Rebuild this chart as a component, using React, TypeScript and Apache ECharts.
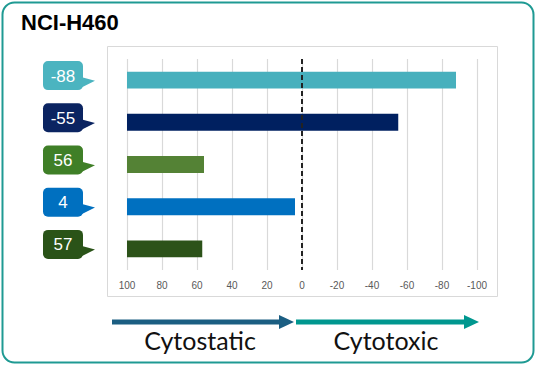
import React, { useEffect, useRef } from "react";
import * as echarts from "echarts";

const CATEGORIES = ["-88", "-55", "56", "4", "57"];
const VALUES = [-88, -55, 56, 4, 57];
const BAR_COLORS = ["#47B0BD", "#002060", "#548235", "#0070C0", "#2C5219"];
const LABEL_COLORS = ["#4BB4C0", "#0B2461", "#3F7F27", "#0070C0", "#2A5318"];
const X_MIN = -100;
const X_MAX = 100;
const X_INTERVAL = 20;
const AXIS_START = 100;
const REF_LINE = 0;
const TITLE = "NCI-H460";
const LEFT_LABEL = "Cytostatic";
const RIGHT_LABEL = "Cytotoxic";

export default function App() {
  const ref = useRef<HTMLDivElement>(null);
  useEffect(() => {
    document.body.style.margin = "0";
    const chart = echarts.init(ref.current!, null, { renderer: "svg" });
    const option: any = {
      animation: false,
      grid: { left: 127, right: 59, top: 59, bottom: 96 },
      xAxis: {
        type: "value",
        min: X_MIN,
        max: X_MAX,
        interval: X_INTERVAL,
        inverse: true,
        axisLine: { show: false },
        axisTick: { show: false },
        axisLabel: {
          color: "#595959",
          fontSize: 10,
          fontFamily: "Liberation Sans",
          margin: 10,
        },
        splitLine: { show: true, lineStyle: { color: "#D9D9D9", width: 1.2 } },
      },
      yAxis: {
        type: "category",
        data: CATEGORIES,
        inverse: true,
        axisLine: { show: false },
        axisTick: { show: false },
        axisLabel: { show: false },
        splitLine: { show: false },
      },
      graphic: [
        {
          type: "rect",
          shape: { x: 2.5, y: 2.5, width: 531, height: 360, r: 12 },
          style: { fill: "none", stroke: "#1F9A93", lineWidth: 2 },
          z: -10,
        },
        {
          type: "rect",
          shape: { x: 107.5, y: 46.5, width: 390, height: 250 },
          style: { fill: "none", stroke: "#D9D9D9", lineWidth: 1 },
          z: -10,
        },
        {
          type: "text",
          left: 21,
          top: 11,
          style: {
            text: TITLE,
            font: "bold 22px 'Liberation Sans', Arial, sans-serif",
            fill: "#000",
          },
        },
        {
          type: "line",
          shape: { x1: 112, y1: 322, x2: 281, y2: 322 },
          style: { stroke: "#1B5E82", lineWidth: 5 },
        },
        {
          type: "polygon",
          shape: { points: [[279, 315], [294, 322], [279, 329]] },
          style: { fill: "#1B5E82" },
        },
        {
          type: "line",
          shape: { x1: 296, y1: 322, x2: 466, y2: 322 },
          style: { stroke: "#00978F", lineWidth: 5 },
        },
        {
          type: "polygon",
          shape: { points: [[464, 315], [479, 322], [464, 329]] },
          style: { fill: "#00978F" },
        },
        {
          type: "text",
          x: 200,
          y: 340,
          style: {
            text: LEFT_LABEL,
            font: "25px Lato, 'Open Sans', sans-serif",
            fill: "#111",
            textAlign: "center",
            textVerticalAlign: "middle",
          },
        },
        {
          type: "text",
          x: 386,
          y: 340,
          style: {
            text: RIGHT_LABEL,
            font: "25px Lato, 'Open Sans', sans-serif",
            fill: "#111",
            textAlign: "center",
            textVerticalAlign: "middle",
          },
        },
      ],
      series: [
        {
          type: "custom",
          name: "bars",
          coordinateSystem: "cartesian2d",
          encode: { x: 0, y: 1 },
          data: VALUES.map((v, i) => [v, i]),
          renderItem: (params: any, api: any) => {
            const v = api.value(0);
            const i = api.value(1);
            const p0 = api.coord([AXIS_START, i]);
            const p1 = api.coord([v, i]);
            const h = api.size([0, 1])[1] * 0.4;
            return {
              type: "rect",
              shape: {
                x: Math.min(p0[0], p1[0]),
                y: p0[1] - h / 2,
                width: Math.abs(p1[0] - p0[0]),
                height: h,
              },
              style: { fill: BAR_COLORS[i] },
            };
          },
          z: 2,
        },
        {
          type: "custom",
          name: "callouts",
          coordinateSystem: "cartesian2d",
          encode: { x: 0, y: 1 },
          clip: false,
          data: VALUES.map((v, i) => [v, i]),
          renderItem: (params: any, api: any) => {
            const v = api.value(0);
            const i = api.value(1);
            const cy = api.coord([AXIS_START, i])[1];
            const w = 40;
            const h = 29;
            const left = 43;
            const top = cy - 19;
            const color = LABEL_COLORS[i];
            return {
              type: "group",
              children: [
                {
                  type: "rect",
                  shape: { x: left, y: top, width: w, height: h, r: 5 },
                  style: { fill: color },
                },
                {
                  type: "polygon",
                  shape: {
                    points: [
                      [left + w - 2, top + h * 0.55],
                      [left + w + 12, top + h * 0.68],
                      [left + w - 2, top + h * 0.92],
                    ],
                  },
                  style: { fill: color },
                },
                {
                  type: "text",
                  style: {
                    x: left + w / 2,
                    y: top + h / 2 + 0.5,
                    text: String(v),
                    fill: "#fff",
                    font: "17px 'Liberation Sans', Arial, sans-serif",
                    textAlign: "center",
                    textVerticalAlign: "middle",
                  },
                },
              ],
            };
          },
          z: 3,
        },
        {
          type: "line",
          name: "ref",
          data: [],
          markLine: {
            silent: true,
            symbol: ["none", "none"],
            label: { show: false },
            lineStyle: { color: "#222", type: [5, 3], width: 2 },
            data: [{ xAxis: REF_LINE }],
          },
          z: 4,
        },
      ],
    };
    chart.setOption(option);
    return () => chart.dispose();
  }, []);
  return <div ref={ref} style={{ width: 536, height: 366 }} />;
}
